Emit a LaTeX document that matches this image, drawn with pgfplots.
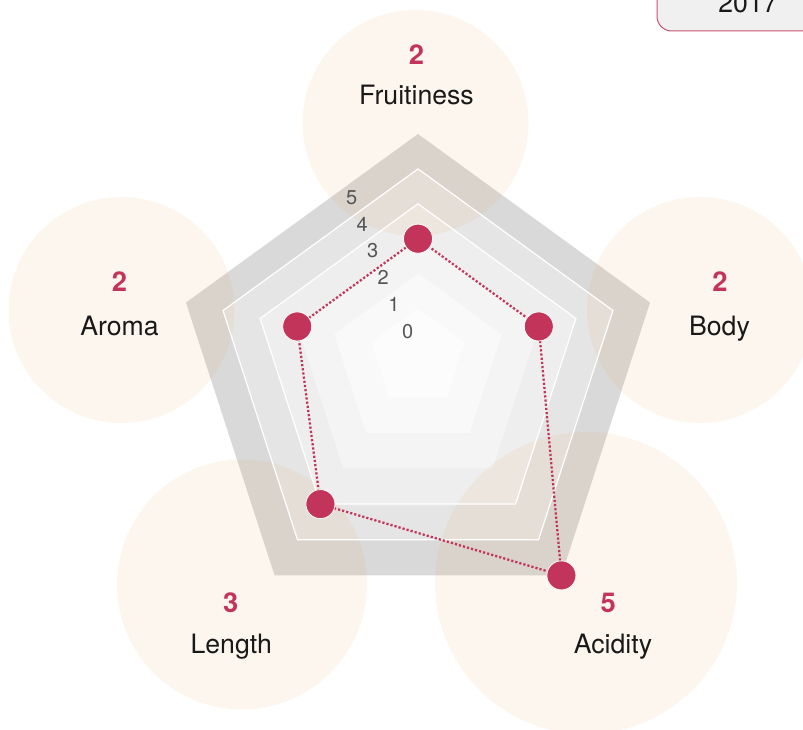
\documentclass[border=0pt]{standalone}
\usepackage{pgfplots}
\pgfplotsset{compat=1.18}
\usepackage{pgfplotstable}
\usepackage{fontspec}
\setmainfont{TeX Gyre Heros}
\definecolor{crim}{RGB}{194,52,90}
\definecolor{peach}{RGB}{235,165,85}
\definecolor{boxfill}{RGB}{240,240,240}
\definecolor{tickc}{RGB}{85,85,85}
\definecolor{labc}{RGB}{25,25,25}

% values: category, angle (deg, clockwise from top), value
\pgfplotstableread{
cat angle value
Fruitiness 0 2
Body 72 2
Acidity 144 5
Length 216 3
Aroma 288 2
Fruitiness 360 2
}\wine

% pentagon for level #1 (pixel-like axis units)
\newcommand\pent[1]{%
 (axis cs:{418},{371.5-4.1*#1+(49+39*#1)}) --
 (axis cs:{418+0.95106*(49+39*#1)},{371.5-4.1*#1+0.30902*(49+39*#1)}) --
 (axis cs:{418+0.58779*(49+39*#1)},{371.5-4.1*#1-0.80902*(49+39*#1)}) --
 (axis cs:{418-0.58779*(49+39*#1)},{371.5-4.1*#1-0.80902*(49+39*#1)}) --
 (axis cs:{418-0.95106*(49+39*#1)},{371.5-4.1*#1+0.30902*(49+39*#1)}) -- cycle}

\begin{document}
\begin{tikzpicture}
\useasboundingbox (0,0) rectangle (602.25pt,546.75pt);
\clip (0,0) rectangle (602.25pt,546.75pt);
\begin{axis}[
  x=0.75pt, y=0.75pt,
  xmin=0, xmax=803, ymin=0, ymax=729,
  axis lines=none, ticks=none, clip=false,
]
% background bands
\fill[black!15] \pent{5};
\fill[black!10] \pent{4};
\fill[black!6.5] \pent{3};
\fill[black!4.5] \pent{2};
\fill[black!2.5] \pent{1};
\fill[black!1.2] \pent{0};
% bubbles (tint over bands)
\fill[peach, fill opacity=0.1] (axis cs:415.5,606) circle[radius=84.75pt];
\fill[peach, fill opacity=0.1] (axis cs:121.5,419) circle[radius=84.75pt];
\fill[peach, fill opacity=0.1] (axis cs:700,419) circle[radius=84.75pt];
\fill[peach, fill opacity=0.1] (axis cs:242,144.5) circle[radius=93.75pt];
\fill[peach, fill opacity=0.1] (axis cs:586,146) circle[radius=113.25pt];
% white ring lines
\draw[white, line width=0.9pt] \pent{4};
\draw[white, line width=0.9pt] \pent{3};
% scale labels
\node[tickc, font=\fontsize{15}{16}\selectfont] at (axis cs:351.7,531.7) {5};
\node[tickc, font=\fontsize{15}{16}\selectfont] at (axis cs:362.3,505) {4};
\node[tickc, font=\fontsize{15}{16}\selectfont] at (axis cs:372.7,478.3) {3};
\node[tickc, font=\fontsize{15}{16}\selectfont] at (axis cs:383.3,451.7) {2};
\node[tickc, font=\fontsize{15}{16}\selectfont] at (axis cs:394,425) {1};
\node[tickc, font=\fontsize{15}{16}\selectfont] at (axis cs:407.7,397.3) {0};
% data
\addplot[crim, line width=1.7pt, dash pattern=on 1.65pt off 1.5pt]
  table[x expr={418+(49+39*\thisrow{value})*sin(\thisrow{angle})},
        y expr={371.5-4.1*\thisrow{value}+(49+39*\thisrow{value})*cos(\thisrow{angle})}] {\wine};
\addplot[only marks, mark=*, mark size=10.9pt,
  mark options={fill=crim, draw=white, line width=0.6pt, solid}]
  table[x expr={418+(49+39*\thisrow{value})*sin(\thisrow{angle})},
        y expr={371.5-4.1*\thisrow{value}+(49+39*\thisrow{value})*cos(\thisrow{angle})}] {\wine};
% category labels
\node[crim, anchor=base, font=\fontsize{20.5}{22}\selectfont\bfseries] at (axis cs:416.5,664.7) {2};
\node[labc, anchor=base, font=\fontsize{20}{22}\selectfont] at (axis cs:416.5,624) {Fruitiness};
\node[crim, anchor=base, font=\fontsize{20.5}{22}\selectfont\bfseries] at (axis cs:119.5,437.3) {2};
\node[labc, anchor=base, font=\fontsize{20}{22}\selectfont] at (axis cs:119.5,393) {Aroma};
\node[crim, anchor=base, font=\fontsize{20.5}{22}\selectfont\bfseries] at (axis cs:720,437.3) {2};
\node[labc, anchor=base, font=\fontsize{20}{22}\selectfont] at (axis cs:719.5,393) {Body};
\node[crim, anchor=base, font=\fontsize{20.5}{22}\selectfont\bfseries] at (axis cs:230.7,116.3) {3};
\node[labc, anchor=base, font=\fontsize{20}{22}\selectfont] at (axis cs:231.3,75.7) {Length};
\node[crim, anchor=base, font=\fontsize{20.5}{22}\selectfont\bfseries] at (axis cs:608.3,116.3) {5};
\node[labc, anchor=base, font=\fontsize{20}{22}\selectfont] at (axis cs:613,75.7) {Acidity};
% year box
\draw[crim!85, fill=boxfill, line width=0.75pt, rounded corners=11pt]
  (axis cs:657,698) rectangle (axis cs:900,780);
\node[labc, anchor=base, font=\fontsize{20}{21}\selectfont] at (axis cs:748,716.3) {2017};
\end{axis}
\end{tikzpicture}
\end{document}
